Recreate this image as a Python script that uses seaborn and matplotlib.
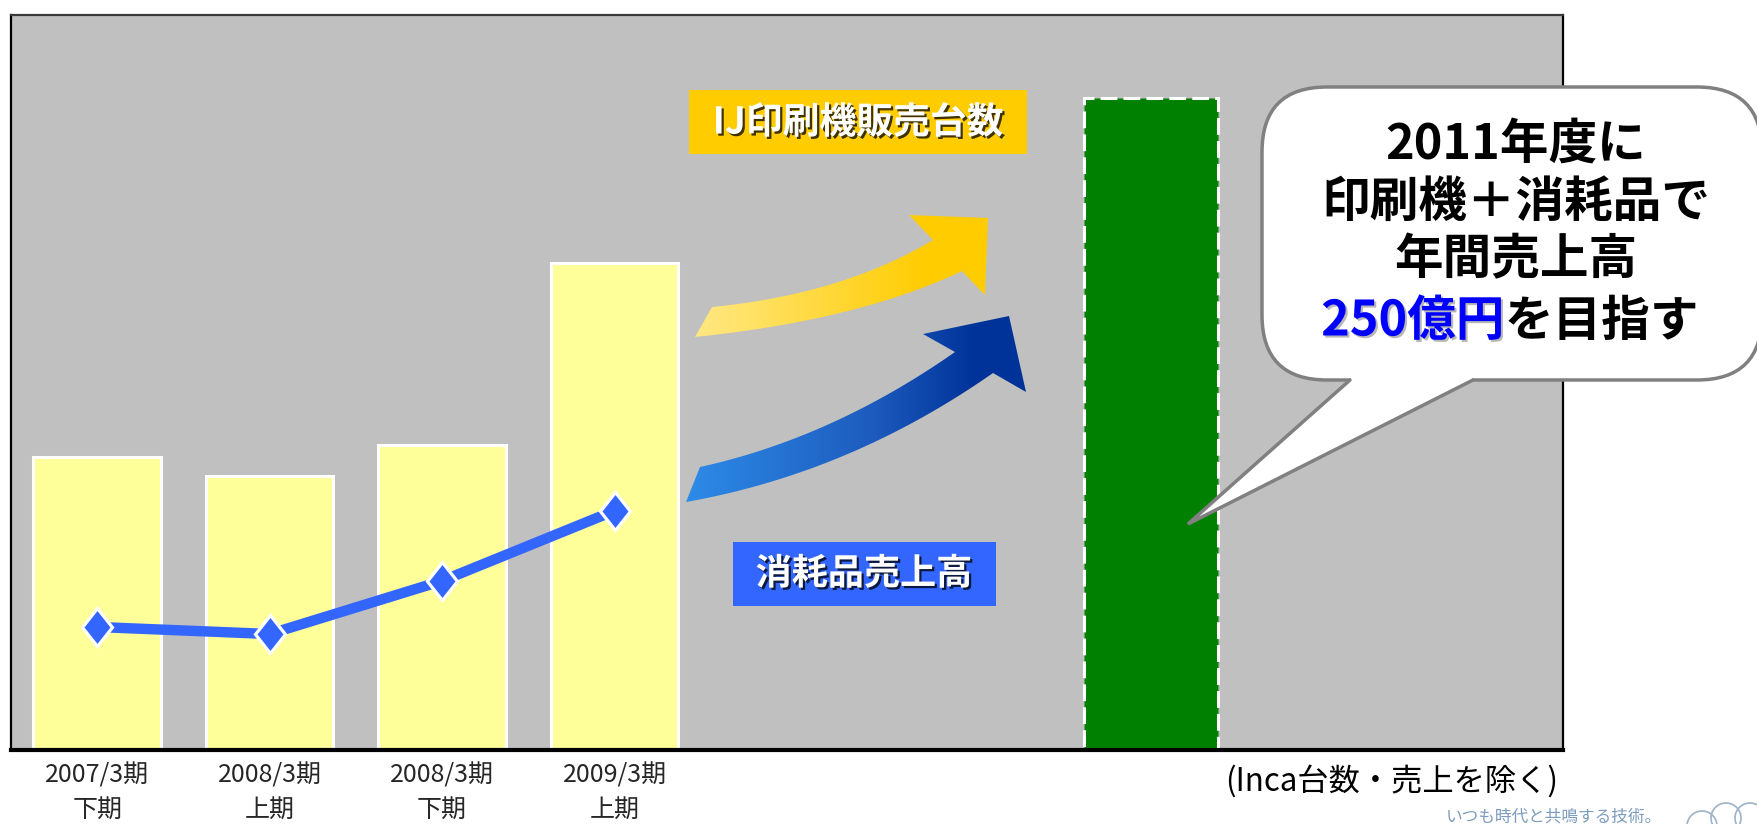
import numpy as np
import pandas as pd
import matplotlib
matplotlib.use("Agg")
import matplotlib.pyplot as plt
import seaborn as sns
from matplotlib import patheffects as pe, font_manager
from matplotlib.patches import Polygon, FancyBboxPatch, Rectangle, Circle
from matplotlib.markers import MarkerStyle
from matplotlib.transforms import Affine2D
from matplotlib.colors import LinearSegmentedColormap
from matplotlib.offsetbox import TextArea, HPacker, AnnotationBbox

# ---- data -------------------------------------------------------------
periods = ["2007/3期\n下期", "2008/3期\n上期", "2008/3期\n下期", "2009/3期\n上期"]
printer_units = [112.5, 105.2, 117.1, 187.0]      # IJ印刷機販売台数 (bars)
consumable_sales = [47.2, 44.5, 64.9, 91.8]       # 消耗品売上高 (line)
target_sales = 250                                # 2011年度目標 (億円)
target_slot = 6
n_slots = 9
y_max = 282

# ---- style ------------------------------------------------------------
sns.set_style("white")
JP = "Noto Sans CJK JP"
plt.rcParams["font.family"] = [JP, "DejaVu Sans"]
installed = {f.name for f in font_manager.fontManager.ttflist}
narrow = "Liberation Sans Narrow" if "Liberation Sans Narrow" in installed else None
tick_family = [narrow, JP] if narrow else [JP]
tick_size = 21 if narrow else 18

W, H = 1758, 824
fig = plt.figure(figsize=(W / 100, H / 100), dpi=100, facecolor="white")
ax = fig.add_axes([11 / W, 1 - 750 / H, (1563 - 11) / W, (750 - 15) / H])

df = pd.DataFrame({"slot": range(len(periods)),
                   "units": printer_units,
                   "sales": consumable_sales})
slots = list(range(n_slots))

# yellow bars: printer unit sales
sns.barplot(data=df, x="slot", y="units", order=slots, color="#FFFF99",
            saturation=1, width=0.74, edgecolor="white", linewidth=2.2,
            ax=ax, zorder=2)

# green target bar, right edge on the slot boundary
ax.bar(target_slot + 0.5, target_sales, width=-0.78, align="edge",
       color="#008000", edgecolor="white", linewidth=2.2,
       linestyle=(0, (5.5, 2.0)), zorder=2)

# consumables line with slightly narrowed diamonds
diamond = MarkerStyle("D", transform=Affine2D().scale(0.78, 1.0))
sns.lineplot(data=df, x="slot", y="sales", color="#3366FF", linewidth=7.5,
             ax=ax, zorder=4)
sales_line = ax.lines[-1]
sales_line.set_marker(diamond)
sales_line.set_markersize(19.5)
sales_line.set_markerfacecolor("#3366FF")
sales_line.set_markeredgecolor("white")
sales_line.set_markeredgewidth(2.3)

ax.set_xlim(-0.5, n_slots - 0.5)
ax.set_ylim(0, y_max)
ax.set_facecolor("#C0C0C0")
ax.set_xlabel("")
ax.set_ylabel("")
ax.set_yticks([])
ax.set_xticks(slots)
ax.set_xticklabels(periods + [""] * (n_slots - len(periods)),
                   linespacing=1.4)
for lbl in ax.get_xticklabels():
    lbl.set_fontfamily(tick_family)
    lbl.set_fontsize(tick_size)
ax.tick_params(axis="x", which="major", length=0, pad=9)
ax.set_xticks(np.arange(0.5, n_slots - 1, 1), minor=True)
ax.tick_params(axis="x", which="minor", direction="in", length=5,
               width=1, color="black")
for side, lw, col in [("bottom", 3.0, "black"), ("left", 1.6, "black"),
                      ("right", 1.6, "black"), ("top", 1.6, "#3a3a3a")]:
    ax.spines[side].set_visible(True)
    ax.spines[side].set_linewidth(lw)
    ax.spines[side].set_color(col)

# ---- overlay in pixel coordinates for callouts --------------------------
ov = fig.add_axes([0, 0, 1, 1])
ov.set_xlim(0, W)
ov.set_ylim(H, 0)
ov.axis("off")
ov.patch.set_alpha(0)


def qbez(p0, p1, p2, n=60):
    t = np.linspace(0, 1, n)[:, None]
    p0, p1, p2 = map(np.asarray, (p0, p1, p2))
    return (1 - t) ** 2 * p0 + 2 * (1 - t) * t * p1 + t ** 2 * p2


def gradient_arrow(lower, upper, head, stops, z=5):
    lo = qbez(*lower)
    up = qbez(*upper)[::-1]
    pts = np.vstack([lo, [head[2]], [head[1]], [head[0]], up])
    poly = Polygon(pts, closed=True, facecolor="none", edgecolor="none")
    ov.add_patch(poly)
    cmap = LinearSegmentedColormap.from_list("grad", stops)
    grad = np.linspace(0, 1, 256).reshape(1, -1)
    x0, x1 = pts[:, 0].min(), pts[:, 0].max()
    y0, y1 = pts[:, 1].min(), pts[:, 1].max()
    im = ov.imshow(grad, cmap=cmap, extent=[x0, x1, y1, y0],
                   aspect="auto", zorder=z, interpolation="bilinear")
    im.set_clip_path(poly)


# printer-units arrow (yellow)
gradient_arrow(lower=[(695, 337), (859, 320), (962, 271)],
               upper=[(712, 307), (843, 294), (933, 240)],
               head=[(909, 215), (988, 218), (985, 295)],
               stops=[(0, "#FFE884"), (0.8, "#FFCC00"), (1, "#FFCC00")])
# consumables arrow (blue)
gradient_arrow(lower=[(686, 502), (850, 473), (993, 373)],
               upper=[(700, 467), (832, 438), (955, 352)],
               head=[(923, 334), (1009, 316), (1026, 392)],
               stops=[(0, "#2E8BE8"), (0.55, "#1D5BBE"), (0.85, "#003399"),
                      (1, "#003399")])

shadow = [pe.withSimplePatchShadow(offset=(1.6, -1.6), shadow_rgbFace="black",
                                   alpha=0.75)]

# label boxes
ov.add_patch(Rectangle((689, 90), 338, 64, facecolor="#FFCC00",
                       edgecolor="none", zorder=6))
ov.text(858, 123, "IJ印刷機販売台数", color="white", fontsize=26.5,
        fontweight="bold", ha="center", va="center", zorder=7,
        path_effects=shadow)
ov.add_patch(Rectangle((733, 542), 263, 64, facecolor="#3366FF",
                       edgecolor="none", zorder=6))
ov.text(864, 574, "消耗品売上高", color="white", fontsize=26,
        fontweight="bold", ha="center", va="center", zorder=7,
        path_effects=shadow)

# speech bubble
bubble_ec = "#808080"
ov.add_patch(FancyBboxPatch((1262, 87), 500, 293,
                            boxstyle="round,pad=0,rounding_size=65",
                            facecolor="white", edgecolor=bubble_ec,
                            linewidth=2.5, zorder=8))
ov.add_patch(Polygon([(1352, 376), (1471, 376), (1473, 380), (1188, 524),
                      (1350, 380)], closed=True, facecolor="white",
                     edgecolor="none", zorder=9))
ov.plot([1350, 1188, 1473], [380, 524, 380], color=bubble_ec, lw=2.5,
        solid_joinstyle="miter", zorder=9)

bubble_size = 35
bubble_kw = dict(fontsize=bubble_size, fontweight="bold", ha="center",
                 va="center", color="black", zorder=10)
ov.text(1516, 144, "2011年度に", **bubble_kw)
ov.text(1516, 202, "印刷機＋消耗品で", **bubble_kw)
ov.text(1516, 260, "年間売上高", **bubble_kw)
blue_part = TextArea("250億円", textprops=dict(
    fontsize=bubble_size, fontweight="bold", color="#0000FF",
    path_effects=[pe.withSimplePatchShadow(offset=(1.5, -1.5),
                                           shadow_rgbFace="#888888",
                                           alpha=0.6)]))
black_part = TextArea("を目指す", textprops=dict(fontsize=bubble_size,
                                                fontweight="bold",
                                                color="black"))
line4 = HPacker(children=[blue_part, black_part], sep=0, align="baseline")
ab = AnnotationBbox(line4, (1510, 321), xycoords="data",
                    box_alignment=(0.5, 0.5), frameon=False, pad=0)
ab.set_zorder(10)
ov.add_artist(ab)

# footnote
ov.text(1558, 781, "(Inca台数・売上を除く)", fontsize=22.5, ha="right",
        va="center", color="black")

# corporate tagline
ov.text(1446, 817, "いつも時代と共鳴する技術。", fontsize=12, ha="left",
        va="center", color="#5B82AE", alpha=0.8)
for cx, cy in [(1702, 826), (1726, 818), (1750, 818)]:
    ov.add_patch(Circle((cx, cy), 15, facecolor="none", edgecolor="#9DB2C8",
                        linewidth=1.2, zorder=3))

ov.set_xlim(0, W)
ov.set_ylim(H, 0)
fig.savefig("out.png", dpi=100, facecolor="white")
